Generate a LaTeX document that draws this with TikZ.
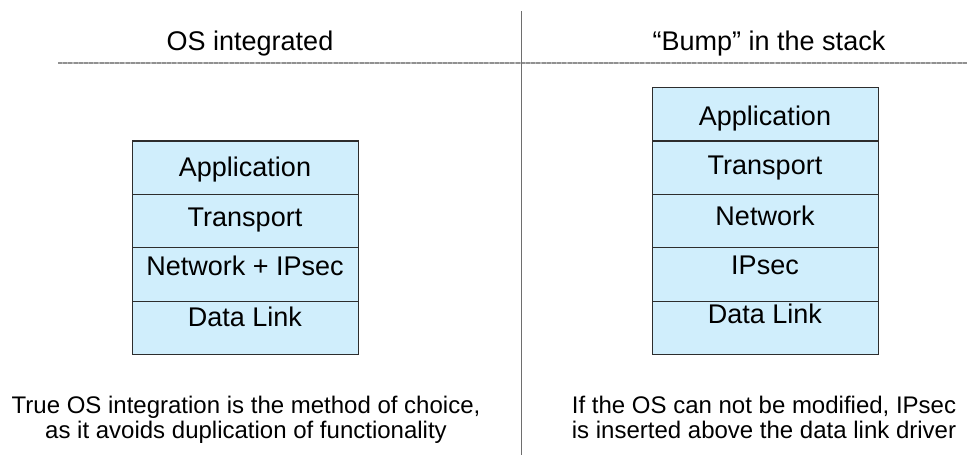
\documentclass[tikz,border=0pt]{standalone}
\usepackage{fontspec}
\setmainfont{Liberation Sans}
\definecolor{layerfill}{RGB}{208,238,252}
\definecolor{layerdraw}{RGB}{45,45,45}
\definecolor{rulegray}{RGB}{145,145,145}
\definecolor{rulelight}{RGB}{185,185,185}
\definecolor{divgray}{RGB}{110,110,110}
\begin{document}
\begin{tikzpicture}[x=1pt,y=-1pt,
  layer/.style={draw=layerdraw, line width=1.1pt, fill=layerfill,
    minimum width=226pt, minimum height=53.4pt, inner sep=0pt, anchor=north west},
  lbl/.style={anchor=base, inner sep=0pt, font=\fontsize{27}{30}\selectfont},
  ttl/.style={anchor=base, inner sep=0pt, font=\fontsize{27}{30}\selectfont},
  note/.style={anchor=base, inner sep=0pt, font=\fontsize{24}{25}\selectfont}]
\useasboundingbox (0,0) rectangle (967,455);
% dividers
\coordinate (hl) at (58,62.7);
\coordinate (hr) at (967,62.7);
\coordinate (vt) at (521.7,11);
\coordinate (vb) at (521.7,455);
\draw[rulelight, line width=1.6pt] (hl) -- (hr);
\draw[rulegray, line width=1.6pt, dash pattern=on 4pt off 1.2pt] (hl) -- (hr);
\draw[divgray, line width=1pt] (vt) -- (vb);
% titles
\node[ttl] (tleft) at (250,50.5) {OS integrated};
\node[ttl] (tright) at (769,50.5) {“Bump” in the stack};
% left stack
\node[layer] (la) at (132,140.4) {};
\node[layer] (lb) at (132,193.8) {};
\node[layer] (lc) at (132,247.2) {};
\node[layer] (ld) at (132,300.6) {};
\node[lbl] (lat) at (245,176.7) {Application};
\node[lbl] (lbt) at (245,226.5) {Transport};
\node[lbl] (lct) at (245,275.5) {Network + IPsec};
\node[lbl] (ldt) at (245,326) {Data Link};
% right stack
\node[layer] (ra) at (652,87) {};
\node[layer] (rb) at (652,140.4) {};
\node[layer] (rc) at (652,193.8) {};
\node[layer] (rd) at (652,247.2) {};
\node[layer] (re) at (652,300.6) {};
\node[lbl] (rat) at (765,125) {Application};
\node[lbl] (rbt) at (765,174) {Transport};
\node[lbl] (rct) at (765,225) {Network};
\node[lbl] (rdt) at (765,274.3) {IPsec};
\node[lbl] (ret) at (765,323.3) {Data Link};
% notes
\node[note] (nl1) at (246,413.3) {True OS integration is the method of choice,};
\node[note] (nl2) at (246,438.3) {as it avoids duplication of functionality};
\node[note] (nr1) at (764,413.3) {If the OS can not be modified, IPsec};
\node[note] (nr2) at (764,438.3) {is inserted above the data link driver};
\end{tikzpicture}
\end{document}
